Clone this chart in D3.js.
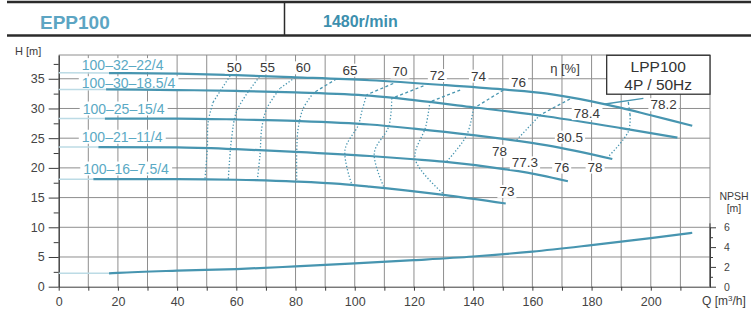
<!DOCTYPE html>
<html>
<head>
<meta charset="utf-8">
<script src="https://cdn.jsdelivr.net/npm/d3@7/dist/d3.min.js"></script>
<style>
  body { margin: 0; background: #fff; }
  svg { font-family: "Liberation Sans", Arial, sans-serif; }
</style>
</head>
<body>
<svg id="chart" width="751" height="314"></svg>
<script>
// ---- data (Q in m3/h, H in m, NPSH in m) ----
const qLabels = [0, 20, 40, 60, 80, 100, 120, 140, 160, 180, 200];
const hLabels = [0, 5, 10, 15, 20, 25, 30, 35];
const npshLabels = [0, 2, 4, 6];

const pumpNames = ["100–32–22/4", "100–30–18.5/4", "100–25–15/4", "100–21–11/4", "100–16–7.5/4"];
const pumpStart = [17, 16, 15.6, 13.4, 11.7]; // where the solid part begins
const pump32 = [[0, 36.0], [17, 35.95], [40, 35.85], [60, 35.6], [80, 35.25], [105, 34.75], [130, 33.95],
  [150, 33.2], [165, 32.5], [180, 31.2], [190, 30.1], [200, 28.85], [214, 27.1]];
const pump30 = [[0, 33.2], [16, 33.2], [40, 33.1], [60, 32.95], [80, 32.7], [105, 32.15], [120, 31.4],
  [140, 30.2], [165, 28.65], [190, 26.7], [209, 25.1]];
const pump25 = [[0, 28.3], [15.6, 28.3], [40, 28.3], [60, 28.15], [80, 27.9], [105, 27.3], [120, 26.6],
  [140, 25.5], [165, 23.8], [187, 21.5]];
const pump21 = [[0, 23.5], [13.4, 23.5], [40, 23.45], [60, 23.15], [80, 22.7], [105, 22.0], [120, 21.45],
  [130, 21.05], [151, 19.75], [163, 18.75], [172, 17.75]];
const pump16 = [[0, 18.1], [11.7, 18.1], [40, 18.1], [60, 18.0], [80, 17.7], [95, 17.3], [105, 16.85],
  [130, 15.45], [151, 14.0]];
const pumpLabelAt = [[7.8, 37.3], [7.8, 34.25], [8.1, 30.0], [7.8, 25.25], [8.3, 19.9]];

const npsh = [[0, 1.35], [17, 1.35], [20, 1.4], [40, 1.62], [60, 1.78], [80, 2.05], [100, 2.35], [120, 2.68],
  [140, 3.05], [160, 3.55], [180, 4.2], [200, 4.9], [214, 5.45]];
const npshStart = 17;

// iso-efficiency lines, from the top curve downwards
const eta50 = [[57.9, 35.5], [52.2, 31.1], [50.5, 27.8], [50.2, 23.3], [49.4, 18.1]];
const eta55 = [[67.8, 35.35], [64.0, 32.8], [60.1, 29.5], [58.4, 25.0], [57.3, 18.1]];
const eta60 = [[79.8, 35.2], [74.8, 33.4], [70.3, 30.0], [68.6, 26.7], [68.0, 22.2], [67.1, 18.0]];
const eta65 = [[93.9, 35.0], [86.0, 32.6], [82.6, 30.0], [80.9, 26.7], [80.4, 22.7], [80.4, 17.8]];
const eta70 = [[113.0, 34.2], [104.0, 32.3], [102.5, 29.7], [101.2, 27.2], [96.7, 23.0], [99.0, 17.2]];
const eta72 = [[123.2, 33.8], [112.5, 31.7], [111.5, 27.0], [106.6, 22.5], [110.0, 16.6]];
const eta74 = [[135.6, 33.1], [125.4, 31.1], [124.0, 27.0], [120.4, 21.5], [130.5, 15.4]];
const eta76 = [[150.2, 33.1], [140.1, 30.0], [137.8, 25.5], [131.1, 21.1]];
const eta78a = [[172.7, 31.6], [162.6, 28.9], [154.7, 24.7]];
const eta78b = [[192.4, 31.1], [193.0, 28.9], [192.4, 26.1], [185.1, 21.6]];

const etaTexts = ["50", "55", "60", "65", "70", "72", "74", "76", "78.4", "78.2", "80.5", "78", "77.3", "76", "78", "73"];
const etaTextAt = [[59.3, 37.0], [70.5, 36.9], [82.6, 36.9], [98.4, 36.5], [115.3, 36.2], [127.9, 35.6],
  [141.8, 35.5], [155.3, 34.5], [178.4, 29.2], [204.3, 30.7], [172.7, 25.25], [148.9, 22.85],
  [157.5, 20.9], [169.9, 20.2], [181.2, 20.2], [151.4, 16.1]];
const leader782 = [[184.0, 30.7], [197.5, 31.7]];

// ---- drawing ----
const svg = d3.select("#chart");
const teal = "#4795b0", tealPale = "#bcdbe5", tealText = "#5aa9c4", gridCol = "#8e8e8e", ink = "#3c3c3c";

const x = d3.scaleLinear().domain([0, 220]).range([58.7, 710]),
  y = d3.scaleLinear().domain([0, 39]).range([286.7, 55]),
  yN = d3.scaleLinear().domain([0, 6]).range([286.7, 227.3]);

// header band
svg.append("line").attr("x1", 7).attr("x2", 751).attr("y1", 2).attr("y2", 2)
  .style("stroke", "#2b2b2b").style("stroke-width", 2.5);
svg.append("line").attr("x1", 7).attr("x2", 751).attr("y1", 35.5).attr("y2", 35.5)
  .style("stroke", "#2b2b2b").style("stroke-width", 2.5);
svg.append("line").attr("x1", 284.5).attr("x2", 284.5).attr("y1", 2).attr("y2", 35.5)
  .style("stroke", "#2b2b2b").style("stroke-width", 1.5);
svg.append("text").text("EPP100").attr("x", 40).attr("y", 29)
  .style("font-size", "19px").style("font-weight", "bold").style("fill", "#5ca5c3");
svg.append("text").text("1480r/min").attr("x", 323).attr("y", 27)
  .style("font-size", "16px").style("font-weight", "bold").style("fill", "#3d8fae");

// grid
const gridG = svg.append("g").style("stroke", gridCol).style("stroke-width", 1);
gridG.selectAll("line.v").data(d3.range(10, 221, 10)).join("line").classed("v", true)
  .attr("x1", d => x(d)).attr("x2", d => x(d)).attr("y1", y(0)).attr("y2", y(39));
gridG.selectAll("line.h").data(d3.range(5, 36, 5).concat([39])).join("line").classed("h", true)
  .attr("x1", x(0)).attr("x2", x(220)).attr("y1", d => y(d)).attr("y2", d => y(d));

// axes
function styleAxis(g) {
  g.attr("font-family", null).attr("font-size", null);
  g.selectAll("path, line").style("stroke", ink);
  g.selectAll("text").style("fill", "#444").style("font-size", "12.5px");
}
svg.append("g").attr("transform", `translate(${x(0)},0)`)
  .call(d3.axisLeft(y).tickValues(d3.range(2.5, 39, 5)).tickSize(5).tickSizeOuter(0).tickFormat(""))
  .call(styleAxis);
svg.append("g").attr("transform", `translate(${x(0)},0)`)
  .call(d3.axisLeft(y).tickValues(hLabels).tickSize(10).tickPadding(4).tickSizeOuter(0))
  .call(styleAxis);
svg.append("g").attr("transform", `translate(0,${y(0)})`)
  .call(d3.axisBottom(x).tickValues(d3.range(0, 211, 10)).tickSize(4).tickPadding(6).tickSizeOuter(0)
    .tickFormat(d => (qLabels.includes(d) ? d : "")))
  .call(styleAxis);
svg.append("g").attr("transform", `translate(${x(220)},0)`)
  .call(d3.axisRight(yN).tickValues(d3.range(1, 6, 2)).tickSize(3).tickSizeOuter(0).tickFormat(""))
  .call(styleAxis);
svg.append("g").attr("transform", `translate(${x(220)},0)`)
  .call(d3.axisRight(yN).tickValues(npshLabels).tickSize(6).tickPadding(8).tickSizeOuter(0)
    .tickFormat(d3.format("d")))
  .call(styleAxis)
  .selectAll("text").style("font-size", "10.5px");
svg.append("line").attr("x1", x(220)).attr("x2", x(220)).attr("y1", yN(0)).attr("y2", yN(6.4))
  .style("stroke", ink);

// axis titles
svg.append("text").text("H [m]").attr("x", 15).attr("y", 55)
  .style("font-size", "11px").style("fill", ink);
svg.append("text").attr("x", 702).attr("y", 305).style("font-size", "12px").style("fill", ink)
  .html('Q [m<tspan dy="-4" font-size="8px">3</tspan><tspan dy="4">/h]</tspan>');
svg.append("text").text("NPSH").attr("x", 734).attr("y", 200).attr("text-anchor", "middle")
  .style("font-size", "10.5px").style("fill", ink);
svg.append("text").text("[m]").attr("x", 734).attr("y", 212).attr("text-anchor", "middle")
  .style("font-size", "10.5px").style("fill", ink);

// labels with a white backing box
function boxedText(parent, txt, q, h, opts) {
  const g = parent.append("g");
  const t = g.append("text").text(txt).attr("x", x(q)).attr("y", y(h)).attr("dy", "0.36em")
    .attr("text-anchor", opts.anchor || "middle")
    .style("font-size", opts.size).style("fill", opts.fill);
  const b = t.node().getBBox();
  g.insert("rect", "text").attr("x", b.x - opts.px).attr("y", b.y + 1)
    .attr("width", b.width + 2 * opts.px).attr("height", b.height - 2).style("fill", "#fff");
}

// pump curves
const pumps = [pump32, pump30, pump25, pump21, pump16];
const curveLine = d3.line().x(d => x(d[0])).y(d => y(d[1])).curve(d3.curveMonotoneX);
const labelG = svg.append("g");
pumps.forEach((pts, i) => {
  boxedText(labelG, pumpNames[i], pumpLabelAt[i][0], pumpLabelAt[i][1],
    { anchor: "start", size: "14px", fill: tealText, px: 3 });
});
const curveG = svg.append("g").style("fill", "none");
pumps.forEach((pts, i) => {
  curveG.append("path").attr("d", curveLine(pts.filter(p => p[0] <= pumpStart[i])))
    .style("stroke", tealPale).style("stroke-width", 1.5);
  curveG.append("path").attr("d", curveLine(pts.filter(p => p[0] >= pumpStart[i])))
    .style("stroke", teal).style("stroke-width", 2.2);
});

// NPSH curve
const npshLine = d3.line().x(d => x(d[0])).y(d => yN(d[1])).curve(d3.curveMonotoneX);
curveG.append("path").attr("d", npshLine(npsh.filter(p => p[0] <= npshStart)))
  .style("stroke", tealPale).style("stroke-width", 1.5);
curveG.append("path").attr("d", npshLine(npsh.filter(p => p[0] >= npshStart)))
  .style("stroke", teal).style("stroke-width", 2.2);

// efficiency lines
const etas = [eta50, eta55, eta60, eta65, eta70, eta72, eta74, eta76, eta78a, eta78b];
const etaLine = d3.line().x(d => x(d[0])).y(d => y(d[1])).curve(d3.curveCatmullRom);
const etaG = svg.append("g").style("fill", "none").style("stroke", teal).style("stroke-width", 1.3);
etas.forEach((pts, i) => {
  etaG.append("path").attr("d", etaLine(pts.slice(0, 2)))
    .style("stroke-dasharray", i >= 3 ? "3,2.5" : "1.3,2");
  etaG.append("path").attr("d", etaLine(pts.slice(1)))
    .style("stroke-dasharray", "1.3,2");
});
curveG.append("path").attr("d", d3.line().x(d => x(d[0])).y(d => y(d[1]))(leader782))
  .style("stroke", teal).style("stroke-width", 1.5);

const etaTextG = svg.append("g");
etaTexts.forEach((t, i) => {
  boxedText(etaTextG, t, etaTextAt[i][0], etaTextAt[i][1], { size: "13.5px", fill: "#3a3a3a", px: 2 });
});
svg.append("text").text("η [%]").attr("x", x(171)).attr("y", y(36.7)).attr("dy", "0.36em")
  .attr("text-anchor", "middle").style("font-size", "13px").style("fill", "#3a3a3a");

// model box
svg.append("rect").attr("x", x(185.1)).attr("y", y(38.95)).attr("width", x(220) - x(185.1))
  .attr("height", y(32.4) - y(38.95)).style("fill", "#fff").style("stroke", "#333").style("stroke-width", 1.3);
svg.append("text").text("LPP100").attr("x", x(202.5)).attr("y", y(37.0)).attr("dy", "0.36em")
  .attr("text-anchor", "middle").style("font-size", "15.5px").style("fill", "#333");
svg.append("text").text("4P / 50Hz").attr("x", x(202.5)).attr("y", y(34.1)).attr("dy", "0.36em")
  .attr("text-anchor", "middle").style("font-size", "15.5px").style("fill", "#333");
</script>
</body>
</html>
